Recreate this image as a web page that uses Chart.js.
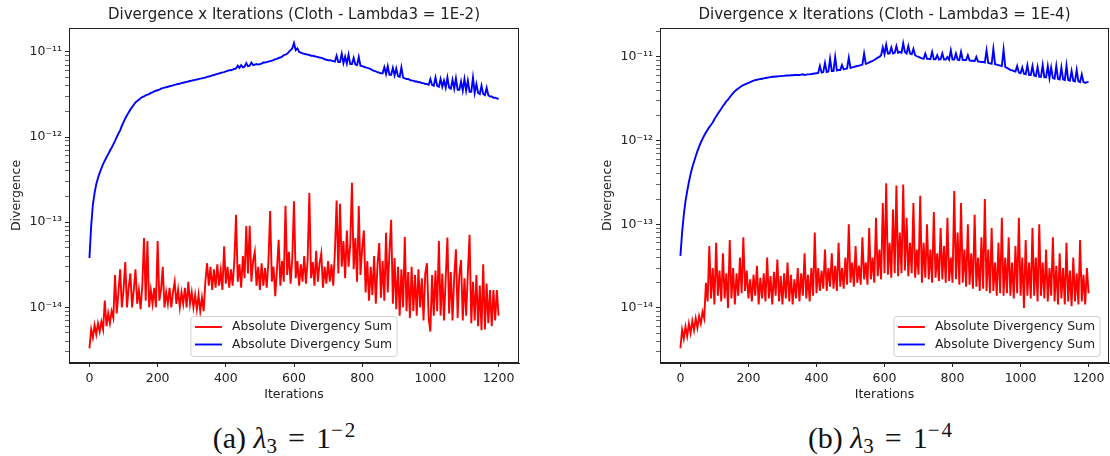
<!DOCTYPE html>
<html>
<head>
<meta charset="utf-8">
<script src="https://cdn.jsdelivr.net/npm/chart.js@4.4.0/dist/chart.umd.min.js"></script>
<style>
  html, body { margin: 0; padding: 0; background: #fff; }
  body { width: 1110px; height: 456px; position: relative; overflow: hidden; }
  canvas { position: absolute; top: 0; }
  #chartA { left: 0; }
  #chartB { left: 591px; }
  .caption {
    position: absolute; top: 423px; transform: translateX(-50%);
    font-family: 'Liberation Serif', 'Times New Roman', serif;
    font-size: 30px; line-height: 30px; white-space: nowrap; color: #111;
  }
  .caption .sub { font-size: 21px; position: relative; top: 5px; }
  .caption .sup { font-size: 21px; position: relative; top: -11px; letter-spacing: 2px; }
  .caption .rel { margin: 0 11px; }
</style>
</head>
<body>
<canvas id="chartA" width="555" height="410"></canvas>
<canvas id="chartB" width="519" height="410"></canvas>
<div class="caption" style="left:285px">(a) <i>λ</i><span class="sub">3</span><span class="rel">=</span>1<span class="sup">−2</span></div>
<div class="caption" style="left:881px">(b) <i>λ</i><span class="sub">3</span><span class="rel">=</span>1<span class="sup">−4</span></div>
<script>
const chartTitles = [
  'Divergence x Iterations (Cloth - Lambda3 = 1E-2)',
  'Divergence x Iterations (Cloth - Lambda3 = 1E-4)',
];
const legendLabels = ['Absolute Divergency Sum', 'Absolute Divergency Sum'];
const xTitle = 'Iterations';
const yTitle = 'Divergence';
const xTicks = [0, 200, 400, 600, 800, 1000, 1200];
const yTickExponents = [-14, -13, -12, -11];
const xRange = [-60, 1260];
const yRangeA = [2.22e-15, 1.91e-11];
const yRangeB = [2.2e-15, 2.22e-11];

// шаг выборки (итерации) для значений ниже
const RED_STEP = 5;
const BLUE_STEP = 5;

// (a) lambda3 = 1E-2
const redA = [
  3.3e-15, 5.5e-15, 4.4e-15, 6.2e-15, 4.8e-15, 6.5e-15, 5.2e-15, 6.8e-15, 5.5e-15, 1.2e-14,
  6.0e-15, 8.5e-15, 6.5e-15, 9.0e-15, 7.5e-15, 2.4e-14, 8.5e-15, 1.5e-14, 2.8e-14, 1.0e-14,
  1.6e-14, 3.4e-14, 1.0e-14, 1.7e-14, 2.5e-14, 1.0e-14, 1.6e-14, 2.8e-14, 1.1e-14, 1.6e-14,
  9.5e-15, 1.8e-14, 6.5e-14, 1.2e-14, 6.0e-14, 1.0e-14, 1.6e-14, 1.1e-14, 1.7e-14, 1.0e-14,
  6.0e-14, 1.2e-14, 1.6e-14, 3.0e-14, 1.0e-14, 1.5e-14, 1.1e-14, 1.7e-14, 1.0e-14, 1.5e-14,
  2.0e-14, 1.1e-14, 1.6e-14, 1.0e-14, 1.5e-14, 1.1e-14, 1.7e-14, 1.0e-14, 2.0e-14, 1.1e-14,
  1.5e-14, 1.0e-14, 1.4e-14, 9.5e-15, 1.4e-14, 9.0e-15, 1.3e-14, 9.0e-15, 2.0e-14, 3.3e-14,
  1.8e-14, 3.0e-14, 1.6e-14, 2.8e-14, 1.7e-14, 3.2e-14, 1.8e-14, 2.7e-14, 1.6e-14, 5.2e-14,
  1.9e-14, 3.0e-14, 1.7e-14, 2.8e-14, 1.8e-14, 3.5e-14, 1.22e-13, 2.0e-14, 3.2e-14, 1.7e-14,
  4.0e-14, 2.2e-14, 9.0e-14, 2.5e-14, 9.1e-14, 2.0e-14, 3.5e-14, 4.5e-14, 1.8e-14, 3.0e-14,
  1.6e-14, 3.3e-14, 1.8e-14, 2.9e-14, 1.7e-14, 3.5e-14, 1.35e-13, 2.0e-14, 3.0e-14, 1.35e-14,
  2.8e-14, 6.2e-14, 1.8e-14, 3.5e-14, 2.0e-14, 1.56e-13, 2.4e-14, 4.5e-14, 1.9e-14, 3.8e-14,
  1.76e-13, 2.2e-14, 3.5e-14, 1.8e-14, 3.2e-14, 2.0e-14, 4.0e-14, 1.9e-14, 3.6e-14, 2.2e-13,
  2.2e-14, 3.4e-14, 1.8e-14, 4.6e-14, 2.0e-14, 3.3e-14, 4.3e-14, 1.7e-14, 3.0e-14, 1.9e-14,
  3.5e-14, 2.0e-14, 3.2e-14, 1.8e-14, 4.5e-14, 1.8e-13, 2.5e-14, 1.65e-13, 3.0e-14, 6.0e-14,
  2.2e-14, 8.0e-14, 3.0e-14, 5.5e-14, 2.9e-13, 2.8e-14, 6.5e-14, 2.0e-14, 1.55e-13, 2.4e-14,
  5.0e-14, 8.0e-14, 1.5e-14, 3.5e-14, 1.2e-14, 3.0e-14, 1.4e-14, 4.0e-14, 1.1e-14, 3.2e-14,
  5.7e-14, 1.3e-14, 3.5e-14, 1.2e-14, 7.5e-14, 1.5e-14, 4.5e-14, 1.07e-13, 1.1e-14, 3.8e-14,
  9.5e-15, 3.0e-14, 8.0e-15, 2.8e-14, 1.0e-14, 6.7e-14, 9.0e-15, 2.6e-14, 7.5e-15, 3.0e-14,
  9.0e-15, 2.4e-14, 8.0e-15, 2.8e-14, 1.0e-14, 2.2e-14, 7.0e-15, 2.5e-14, 3.3e-14, 7.5e-15,
  5.2e-15, 2.4e-14, 8.0e-15, 2.7e-14, 9.0e-15, 6.0e-14, 8.0e-15, 2.5e-14, 7.0e-15, 2.2e-14,
  6.6e-14, 8.5e-15, 2.6e-14, 7.0e-15, 2.3e-14, 4.8e-14, 7.5e-15, 2.4e-14, 3.6e-14, 7.0e-15,
  2.2e-14, 8.0e-15, 2.6e-14, 7.1e-14, 6.5e-15, 2.0e-14, 7.0e-15, 2.4e-14, 6.0e-15, 1.8e-14,
  5.4e-15, 3.2e-14, 5.5e-15, 1.9e-14, 6.5e-15, 1.6e-14, 6.0e-15, 1.6e-14, 7.0e-15, 1.6e-14,
  8.0e-15,
];
const blueA = [
  3.8e-14, 9.0e-14, 1.6e-13, 2.2e-13, 2.8e-13, 3.3e-13, 3.8e-13, 4.3e-13, 4.8e-13, 5.3e-13,
  5.8e-13, 6.3e-13, 6.9e-13, 7.5e-13, 8.2e-13, 9.0e-13, 1.0e-12, 1.1e-12, 1.2e-12, 1.35e-12,
  1.5e-12, 1.65e-12, 1.8e-12, 1.95e-12, 2.1e-12, 2.25e-12, 2.4e-12, 2.55e-12, 2.65e-12, 2.75e-12,
  2.85e-12, 2.95e-12, 3.0e-12, 3.1e-12, 3.15e-12, 3.2e-12, 3.3e-12, 3.35e-12, 3.45e-12, 3.5e-12,
  3.55e-12, 3.6e-12, 3.7e-12, 3.75e-12, 3.8e-12, 3.85e-12, 3.9e-12, 3.95e-12, 4.0e-12, 4.05e-12,
  4.1e-12, 4.15e-12, 4.2e-12, 4.25e-12, 4.3e-12, 4.35e-12, 4.4e-12, 4.45e-12, 4.5e-12, 4.55e-12,
  4.6e-12, 4.65e-12, 4.7e-12, 4.75e-12, 4.8e-12, 4.85e-12, 4.9e-12, 4.95e-12, 5.0e-12, 5.1e-12,
  5.15e-12, 5.2e-12, 5.3e-12, 5.35e-12, 5.45e-12, 5.5e-12, 5.6e-12, 5.65e-12, 5.75e-12, 5.8e-12,
  5.9e-12, 6.0e-12, 6.1e-12, 6.1e-12, 6.2e-12, 6.3e-12, 6.4e-12, 6.9e-12, 6.5e-12, 7.0e-12,
  6.6e-12, 6.7e-12, 7.4e-12, 6.8e-12, 6.9e-12, 7.5e-12, 7.0e-12, 7.1e-12, 7.2e-12, 7.1e-12,
  7.2e-12, 7.3e-12, 7.5e-12, 7.5e-12, 7.6e-12, 7.7e-12, 7.8e-12, 7.9e-12, 8.0e-12, 8.2e-12,
  8.3e-12, 8.5e-12, 8.6e-12, 8.8e-12, 9.2e-12, 9.3e-12, 9.5e-12, 1.0e-11, 1.05e-11, 1.1e-11,
  1.27e-11, 1.05e-11, 1.1e-11, 1.0e-11, 9.8e-12, 9.6e-12, 9.5e-12, 9.4e-12, 9.3e-12, 9.2e-12,
  9.0e-12, 9.0e-12, 8.9e-12, 8.8e-12, 8.7e-12, 8.6e-12, 8.5e-12, 8.4e-12, 8.2e-12, 8.1e-12,
  8.0e-12, 8.0e-12, 7.9e-12, 7.8e-12, 7.7e-12, 9.0e-12, 7.6e-12, 7.6e-12, 9.5e-12, 7.4e-12,
  8.8e-12, 7.3e-12, 9.3e-12, 7.2e-12, 7.2e-12, 8.5e-12, 7.1e-12, 7.0e-12, 8.7e-12, 6.9e-12,
  6.8e-12, 6.7e-12, 6.6e-12, 6.5e-12, 6.4e-12, 6.3e-12, 6.1e-12, 6.0e-12, 5.9e-12, 5.8e-12,
  5.7e-12, 5.6e-12, 5.6e-12, 6.6e-12, 5.5e-12, 6.8e-12, 5.4e-12, 5.4e-12, 6.5e-12, 5.3e-12,
  6.4e-12, 5.2e-12, 5.1e-12, 6.6e-12, 5.0e-12, 4.9e-12, 4.8e-12, 4.8e-12, 4.7e-12, 4.6e-12,
  4.6e-12, 4.5e-12, 4.5e-12, 4.4e-12, 4.4e-12, 4.3e-12, 4.3e-12, 4.2e-12, 4.2e-12, 4.1e-12,
  4.8e-12, 4.1e-12, 4.0e-12, 5.0e-12, 4.0e-12, 3.9e-12, 4.8e-12, 3.9e-12, 4.6e-12, 3.8e-12,
  5.0e-12, 3.8e-12, 3.7e-12, 4.7e-12, 3.7e-12, 4.9e-12, 3.6e-12, 3.6e-12, 4.5e-12, 3.5e-12,
  4.8e-12, 3.5e-12, 4.6e-12, 3.4e-12, 3.4e-12, 5.0e-12, 3.3e-12, 4.2e-12, 3.3e-12, 3.2e-12,
  4.0e-12, 3.2e-12, 3.1e-12, 3.8e-12, 3.1e-12, 3.0e-12, 3.0e-12, 2.9e-12, 2.9e-12, 2.85e-12,
  2.8e-12,
];

// (b) lambda3 = 1E-4
const redB = [
  3.3e-15, 5.5e-15, 4.3e-15, 6.0e-15, 4.6e-15, 6.5e-15, 5.0e-15, 7.0e-15, 5.4e-15, 7.5e-15,
  5.8e-15, 8.0e-15, 6.5e-15, 9.0e-15, 7.5e-15, 2.0e-14, 1.2e-14, 5.5e-14, 1.3e-14, 3.0e-14,
  1.1e-14, 6.0e-14, 1.4e-14, 2.8e-14, 1.2e-14, 4.5e-14, 1.3e-14, 2.6e-14, 1.0e-14, 6.5e-14,
  1.3e-14, 3.0e-14, 1.1e-14, 2.6e-14, 1.4e-14, 4.0e-14, 1.5e-14, 7.0e-14, 1.6e-14, 2.8e-14,
  1.3e-14, 2.2e-14, 1.2e-14, 2.5e-14, 1.4e-14, 3.2e-14, 1.1e-14, 2.3e-14, 1.3e-14, 2.6e-14,
  1.2e-14, 4.0e-14, 1.3e-14, 2.4e-14, 1.1e-14, 2.7e-14, 1.4e-14, 3.8e-14, 1.2e-14, 2.4e-14,
  1.1e-14, 2.6e-14, 1.3e-14, 3.5e-14, 1.2e-14, 2.5e-14, 1.1e-14, 2.2e-14, 1.3e-14, 3.0e-14,
  1.2e-14, 2.6e-14, 1.4e-14, 4.5e-14, 1.3e-14, 2.5e-14, 1.2e-14, 3.0e-14, 1.4e-14, 8.0e-14,
  1.5e-14, 3.0e-14, 1.6e-14, 2.8e-14, 1.7e-14, 5.0e-14, 1.6e-14, 3.0e-14, 1.8e-14, 4.5e-14,
  1.7e-14, 3.2e-14, 1.6e-14, 6.0e-14, 1.8e-14, 3.0e-14, 1.7e-14, 4.0e-14, 1.9e-14, 1.0e-13,
  2.0e-14, 3.5e-14, 1.8e-14, 5.5e-14, 2.0e-14, 3.2e-14, 1.9e-14, 7.0e-14, 2.2e-14, 3.5e-14,
  1.9e-14, 9.0e-14, 2.2e-14, 4.0e-14, 2.0e-14, 1.2e-13, 2.4e-14, 5.0e-14, 2.2e-14, 1.8e-13,
  2.6e-14, 3.1e-13, 2.5e-14, 6.0e-14, 2.3e-14, 1.5e-13, 2.6e-14, 2.9e-13, 2.4e-14, 8.0e-14,
  2.6e-14, 3.0e-13, 2.8e-14, 1.2e-13, 2.4e-14, 6.0e-14, 2.6e-14, 1.8e-13, 2.3e-14, 5.0e-14,
  2.5e-14, 2.2e-13, 2.0e-14, 6.0e-14, 2.3e-14, 1.0e-13, 2.2e-14, 5.0e-14, 2.0e-14, 1.4e-13,
  2.3e-14, 4.5e-14, 2.1e-14, 9.0e-14, 2.2e-14, 5.5e-14, 2.0e-14, 1.2e-13, 2.1e-14, 4.0e-14,
  2.0e-14, 2.5e-13, 2.2e-14, 8.0e-14, 1.9e-14, 1.8e-13, 2.0e-14, 5.0e-14, 1.8e-14, 1.0e-13,
  1.9e-14, 4.5e-14, 1.7e-14, 1.3e-13, 1.8e-14, 4.0e-14, 1.6e-14, 7.0e-14, 1.7e-14, 2.0e-13,
  1.6e-14, 5.0e-14, 1.5e-14, 9.0e-14, 1.6e-14, 3.5e-14, 1.4e-14, 6.0e-14, 1.5e-14, 1.2e-13,
  1.4e-14, 4.0e-14, 1.5e-14, 7.0e-14, 1.4e-14, 3.5e-14, 1.3e-14, 5.5e-14, 1.5e-14, 1.2e-13,
  1.4e-14, 4.0e-14, 1.0e-14, 6.5e-14, 1.4e-14, 3.5e-14, 1.3e-14, 9.0e-14, 1.4e-14, 4.0e-14,
  1.2e-14, 1.0e-13, 1.4e-14, 3.5e-14, 1.3e-14, 5.0e-14, 1.2e-14, 3.0e-14, 1.4e-14, 7.0e-14,
  1.2e-14, 3.2e-14, 1.1e-14, 4.5e-14, 1.3e-14, 3.0e-14, 1.1e-14, 6.0e-14, 1.2e-14, 2.8e-14,
  1.05e-14, 4.0e-14, 1.2e-14, 2.6e-14, 1.1e-14, 6.5e-14, 1.2e-14, 2.5e-14, 1.1e-14, 3.0e-14,
  1.5e-14,
];
const blueB = [
  4.2e-14, 8.0e-14, 1.3e-13, 1.9e-13, 2.5e-13, 3.2e-13, 4.0e-13, 4.8e-13, 5.6e-13, 6.5e-13,
  7.5e-13, 8.5e-13, 9.5e-13, 1.05e-12, 1.15e-12, 1.25e-12, 1.35e-12, 1.45e-12, 1.55e-12, 1.65e-12,
  1.8e-12, 1.95e-12, 2.1e-12, 2.25e-12, 2.4e-12, 2.6e-12, 2.75e-12, 2.95e-12, 3.1e-12, 3.3e-12,
  3.5e-12, 3.7e-12, 3.9e-12, 4.05e-12, 4.2e-12, 4.35e-12, 4.5e-12, 4.6e-12, 4.7e-12, 4.8e-12,
  4.9e-12, 5.0e-12, 5.1e-12, 5.2e-12, 5.3e-12, 5.35e-12, 5.4e-12, 5.45e-12, 5.5e-12, 5.55e-12,
  5.6e-12, 5.65e-12, 5.7e-12, 5.75e-12, 5.8e-12, 5.8e-12, 5.85e-12, 5.85e-12, 5.9e-12, 5.9e-12,
  5.95e-12, 5.95e-12, 6.0e-12, 6.0e-12, 6.0e-12, 6.05e-12, 6.05e-12, 6.1e-12, 6.1e-12, 6.1e-12,
  6.1e-12, 6.15e-12, 6.2e-12, 6.1e-12, 6.15e-12, 6.2e-12, 6.2e-12, 6.25e-12, 6.3e-12, 6.35e-12,
  6.4e-12, 6.45e-12, 7.8e-12, 6.5e-12, 6.6e-12, 8.5e-12, 6.6e-12, 6.7e-12, 9.5e-12, 6.8e-12,
  6.8e-12, 1.0e-11, 6.9e-12, 7.0e-12, 7.0e-12, 8.0e-12, 7.1e-12, 7.2e-12, 7.3e-12, 9.8e-12,
  7.4e-12, 7.5e-12, 7.6e-12, 7.7e-12, 7.8e-12, 7.9e-12, 8.0e-12, 8.1e-12, 1.1e-11, 8.3e-12,
  8.4e-12, 8.6e-12, 8.8e-12, 9.0e-12, 9.2e-12, 9.5e-12, 9.8e-12, 1.0e-11, 1.05e-11, 1.3e-11,
  1.08e-11, 1.4e-11, 1.1e-11, 1.1e-11, 1.3e-11, 1.1e-11, 1.12e-11, 1.35e-11, 1.12e-11, 1.15e-11,
  1.12e-11, 1.46e-11, 1.15e-11, 1.1e-11, 1.35e-11, 1.1e-11, 1.08e-11, 1.25e-11, 1.05e-11, 1.02e-11,
  1.0e-11, 9.8e-12, 9.6e-12, 9.5e-12, 1.1e-11, 9.5e-12, 9.5e-12, 9.4e-12, 1.15e-11, 9.4e-12,
  9.4e-12, 1.05e-11, 9.3e-12, 9.4e-12, 1.1e-11, 9.3e-12, 9.3e-12, 1.0e-11, 9.3e-12, 1.2e-11,
  9.3e-12, 9.3e-12, 1.1e-11, 9.3e-12, 9.2e-12, 1.15e-11, 9.2e-12, 9.2e-12, 9.2e-12, 1.05e-11,
  9.1e-12, 9.0e-12, 9.0e-12, 8.9e-12, 1.0e-11, 8.8e-12, 8.8e-12, 8.7e-12, 8.7e-12, 8.6e-12,
  1.2e-11, 8.5e-12, 8.4e-12, 8.3e-12, 1.25e-11, 8.2e-12, 8.1e-12, 8.0e-12, 7.9e-12, 7.8e-12,
  1.22e-11, 7.6e-12, 7.4e-12, 7.2e-12, 7.0e-12, 6.9e-12, 6.8e-12, 6.7e-12, 7.8e-12, 6.5e-12,
  6.4e-12, 7.5e-12, 6.3e-12, 6.2e-12, 8.0e-12, 6.1e-12, 6.1e-12, 7.8e-12, 6.0e-12, 5.9e-12,
  7.6e-12, 5.8e-12, 5.8e-12, 8.0e-12, 5.7e-12, 5.7e-12, 7.8e-12, 5.6e-12, 7.5e-12, 5.6e-12,
  5.5e-12, 7.8e-12, 5.5e-12, 5.4e-12, 7.5e-12, 5.4e-12, 5.3e-12, 7.9e-12, 5.3e-12, 5.2e-12,
  6.8e-12, 5.2e-12, 5.1e-12, 7.0e-12, 5.1e-12, 5.0e-12, 6.2e-12, 5.0e-12, 4.9e-12, 5.0e-12,
  5.0e-12,
];

const FONT = "'DejaVu Sans', 'Liberation Sans', sans-serif";
const TEXT = '#222';

Chart.defaults.font.family = FONT;
Chart.defaults.font.size = 12.5;
Chart.defaults.color = TEXT;

const toPoints = (values, step) => values.map((v, i) => ({ x: i * step, y: v }));

const SUP = { '-': '\u207B', 0: '\u2070', 1: '\u00B9', 2: '\u00B2', 3: '\u00B3', 4: '\u2074', 5: '\u2075', 6: '\u2076', 7: '\u2077', 8: '\u2078', 9: '\u2079' };
const toSup = (n) => String(n).split('').map((c) => SUP[c]).join('');

const majorExp = (v) => yTickExponents.find((e) => Math.abs(v - 10 ** e) < 10 ** e * 1e-6);

// рамка вокруг области графика (как в matplotlib)
const chartAreaBorder = {
  id: 'chartAreaBorder',
  afterDraw(chart) {
    const { ctx, chartArea: { left, top, width, height } } = chart;
    ctx.save();
    ctx.strokeStyle = '#222';
    ctx.lineWidth = 1;
    ctx.strokeRect(left + 0.5, top + 0.5, width - 1, height - 1);
    ctx.restore();
  },
};

// заголовок по центру области графика
const axesTitle = {
  id: 'axesTitle',
  afterDraw(chart, args, opts) {
    const { ctx, chartArea } = chart;
    ctx.save();
    ctx.font = `15px ${FONT}`;
    ctx.fillStyle = TEXT;
    ctx.textAlign = 'center';
    ctx.textBaseline = 'middle';
    ctx.fillText(opts.text, (chartArea.left + chartArea.right) / 2, chartArea.top - 13);
    ctx.restore();
  },
};

// легенда внутри области графика
const boxLegend = {
  id: 'boxLegend',
  afterDraw(chart, args, opts) {
    const { ctx, chartArea } = chart;
    const items = chart.data.datasets;
    ctx.save();
    ctx.font = `12.4px ${FONT}`;
    const textW = Math.max(...items.map((d) => ctx.measureText(d.label).width));
    const w = 4 + 27 + 10 + textW + 5;
    const h = 40;
    const x = opts.align === 'right'
      ? chartArea.right - 9 - w
      : (chartArea.left + chartArea.right) / 2 - w / 2;
    const y = chartArea.bottom - 6.5 - h;
    ctx.fillStyle = 'rgba(255,255,255,0.8)';
    ctx.strokeStyle = '#d0d0d0';
    ctx.lineWidth = 1;
    ctx.beginPath();
    ctx.roundRect(x, y, w, h, 3);
    ctx.fill();
    ctx.stroke();
    items.forEach((d, i) => {
      const ly = y + 10.5 + i * 17.5;
      ctx.strokeStyle = d.borderColor;
      ctx.lineWidth = 1.9;
      ctx.beginPath();
      ctx.moveTo(x + 4, ly);
      ctx.lineTo(x + 31, ly);
      ctx.stroke();
      ctx.fillStyle = TEXT;
      ctx.textBaseline = 'middle';
      ctx.fillText(d.label, x + 41, ly);
    });
    ctx.restore();
  },
};

const makeChart = (canvas, cfg) => new Chart(canvas, {
  type: 'line',
  data: {
    datasets: [
      {
        label: legendLabels[0],
        data: toPoints(cfg.red, RED_STEP),
        borderColor: '#ff0000',
        borderWidth: 1.9,
        pointRadius: 0,
        tension: 0,
      },
      {
        label: legendLabels[1],
        data: toPoints(cfg.blue, BLUE_STEP),
        borderColor: '#0000ff',
        borderWidth: 1.9,
        pointRadius: 0,
        tension: 0,
      },
    ],
  },
  options: {
    responsive: false,
    animation: false,
    events: [],
    layout: { padding: { top: 28, right: cfg.padRight, left: 0, bottom: 0 } },
    plugins: {
      legend: { display: false },
      tooltip: { enabled: false },
      axesTitle: { text: cfg.title },
      boxLegend: { align: cfg.legendAlign },
    },
    scales: {
      x: {
        type: 'linear',
        min: xRange[0],
        max: xRange[1],
        afterBuildTicks(scale) {
          scale.ticks = xTicks.map((v) => ({ value: v }));
        },
        afterFit(scale) {
          scale.height = 47;
        },
        ticks: {
          autoSkip: false,
          maxRotation: 0,
          padding: 4,
          callback: (v) => String(v),
        },
        grid: { drawOnChartArea: false, tickLength: 4, tickColor: '#222' },
        border: { color: '#222' },
        title: { display: true, text: xTitle, padding: { top: 0, bottom: 7.5 } },
      },
      y: {
        type: 'logarithmic',
        min: cfg.yRange[0],
        max: cfg.yRange[1],
        afterBuildTicks(scale) {
          const ticks = [];
          const exps = [yTickExponents[0] - 1, ...yTickExponents];
          exps.forEach((e) => {
            for (let m = 1; m <= 9; m++) {
              const v = m * 10 ** e;
              if (v >= scale.min && v <= scale.max) ticks.push({ value: v, major: m === 1 });
            }
          });
          scale.ticks = ticks;
        },
        afterFit(scale) {
          scale.width = 69;
        },
        ticks: {
          autoSkip: false,
          padding: 3,
          callback: (v) => {
            const e = majorExp(v);
            return e === undefined ? '' : `10${toSup(e)}`;
          },
        },
        grid: {
          drawOnChartArea: false,
          tickLength: 4,
          tickColor: '#222',
          tickWidth: (ctx) => (ctx.tick && majorExp(ctx.tick.value) !== undefined ? 1 : 0.7),
        },
        border: { color: '#222' },
        title: { display: true, text: yTitle, padding: { top: 9, bottom: 0 } },
      },
    },
  },
  plugins: [chartAreaBorder, axesTitle, boxLegend],
});

makeChart(document.getElementById('chartA'), {
  red: redA, blue: blueA, yRange: yRangeA, title: chartTitles[0], legendAlign: 'center', padRight: 36,
});
makeChart(document.getElementById('chartB'), {
  red: redB, blue: blueB, yRange: yRangeB, title: chartTitles[1], legendAlign: 'right', padRight: 1,
});
</script>
</body>
</html>
